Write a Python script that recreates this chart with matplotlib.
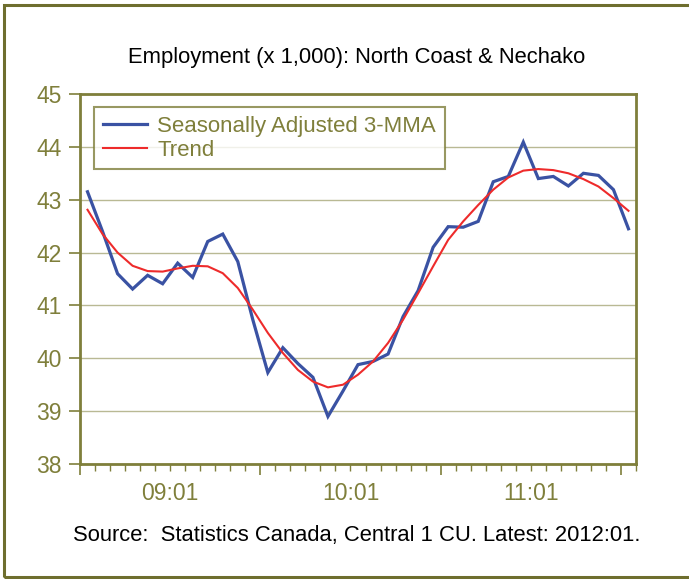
import numpy as np
import matplotlib
matplotlib.use('Agg')
from matplotlib import pyplot as plt
from matplotlib.patches import Rectangle
from matplotlib.ticker import FixedLocator, NullFormatter

# monthly series, 2009:01 to 2012:01
months = ['%02d:%02d' % (9 + (m // 12), m % 12 + 1) for m in range(37)]

seasonal_3mma = [43.15, 42.40, 41.60, 41.31, 41.57, 41.41, 41.80, 41.53, 42.21, 42.35,
                 41.83, 40.73, 39.73, 40.20, 39.90, 39.64, 38.90, 39.38, 39.88, 39.94,
                 40.08, 40.79, 41.28, 42.10, 42.49, 42.48, 42.59, 43.34, 43.44, 44.09,
                 43.40, 43.44, 43.26, 43.50, 43.46, 43.19, 42.45]

trend = [42.81, 42.35, 42.00, 41.75, 41.65, 41.64, 41.70, 41.75, 41.74, 41.61,
         41.33, 40.92, 40.48, 40.10, 39.78, 39.56, 39.45, 39.50, 39.69, 39.94,
         40.29, 40.73, 41.23, 41.74, 42.24, 42.59, 42.90, 43.19, 43.42, 43.55,
         43.58, 43.56, 43.50, 43.39, 43.25, 43.03, 42.79]

year_labels = ['09:01', '10:01', '11:01']

olive = '#7f7f3b'
grid_col = '#b9b994'
blue = '#3a52a3'
red = '#ee2b2b'


def main():
	fig = plt.figure(figsize=(6.89, 5.79), dpi=100, facecolor='w')
	plt.rcParams['font.family'] = ['Liberation Sans', 'DejaVu Sans']

	# outer frame around the whole chart
	fig.patches.append(Rectangle((3.5 / 689, 2.0 / 579), 1.2, (574.5 - 2.0) / 579,
								 transform=fig.transFigure, fill=False,
								 edgecolor='#6e6e2e', linewidth=2.2))

	ax = fig.add_axes([80 / 689, (579 - 464) / 579, (636 - 80) / 689, (464 - 94) / 579])
	x = np.arange(len(months))

	ax.plot(x, seasonal_3mma, color=blue, linewidth=2.3, label='Seasonally Adjusted 3-MMA',
			solid_joinstyle='miter')
	ax.plot(x, trend, color=red, linewidth=1.5, label='Trend')

	ax.set_xlim(-0.5, len(months) - 0.5)
	ax.set_ylim(38, 45)
	ax.set_yticks(range(38, 46))
	ax.yaxis.grid(True, color=grid_col, linewidth=1.0)
	ax.set_axisbelow(True)

	# category axis: month ticks, longer ticks at year boundaries, labels centred in each year
	ax.xaxis.set_major_locator(FixedLocator([-0.5, 11.5, 23.5, 35.5]))
	ax.xaxis.set_minor_locator(FixedLocator(np.arange(-0.5, len(months), 1.0)))
	ax.xaxis.set_major_formatter(NullFormatter())
	ax.tick_params(axis='x', which='major', length=8, width=1.2, color=olive, direction='out')
	ax.tick_params(axis='x', which='minor', length=5, width=1.0, color=olive, direction='out')
	for pos, lab in zip([5.5, 17.5, 29.5], year_labels):
		ax.text(pos, -0.05, lab, transform=ax.get_xaxis_transform(), ha='center', va='top',
				color=olive, fontsize=16.5)

	ax.tick_params(axis='y', length=8, width=1.2, color=olive, labelcolor=olive,
				   labelsize=16.5, pad=5)

	for s in ax.spines.values():
		s.set_color(olive)
		s.set_linewidth(2.0)

	leg = ax.legend(loc='upper left', bbox_to_anchor=(14 / 556, 1 - 13 / 370), fontsize=16,
					frameon=True, fancybox=False, borderpad=0.4, labelspacing=0.12,
					handlelength=2.0, handletextpad=0.45, borderaxespad=0)
	leg.get_frame().set_edgecolor(olive)
	leg.get_frame().set_linewidth(1.5)
	for t in leg.get_texts():
		t.set_color(olive)

	fig.text(357 / 689, 1 - 58 / 579, 'Employment (x 1,000): North Coast & Nechako',
			 ha='center', va='center', fontsize=15.8, color='black')
	fig.text(357 / 689, 1 - 535 / 579, 'Source:  Statistics Canada, Central 1 CU. Latest: 2012:01.',
			 ha='center', va='center', fontsize=15.8, color='black')

	fig.savefig('out.png', dpi=100, facecolor='w')


if __name__ == '__main__':
	main()
